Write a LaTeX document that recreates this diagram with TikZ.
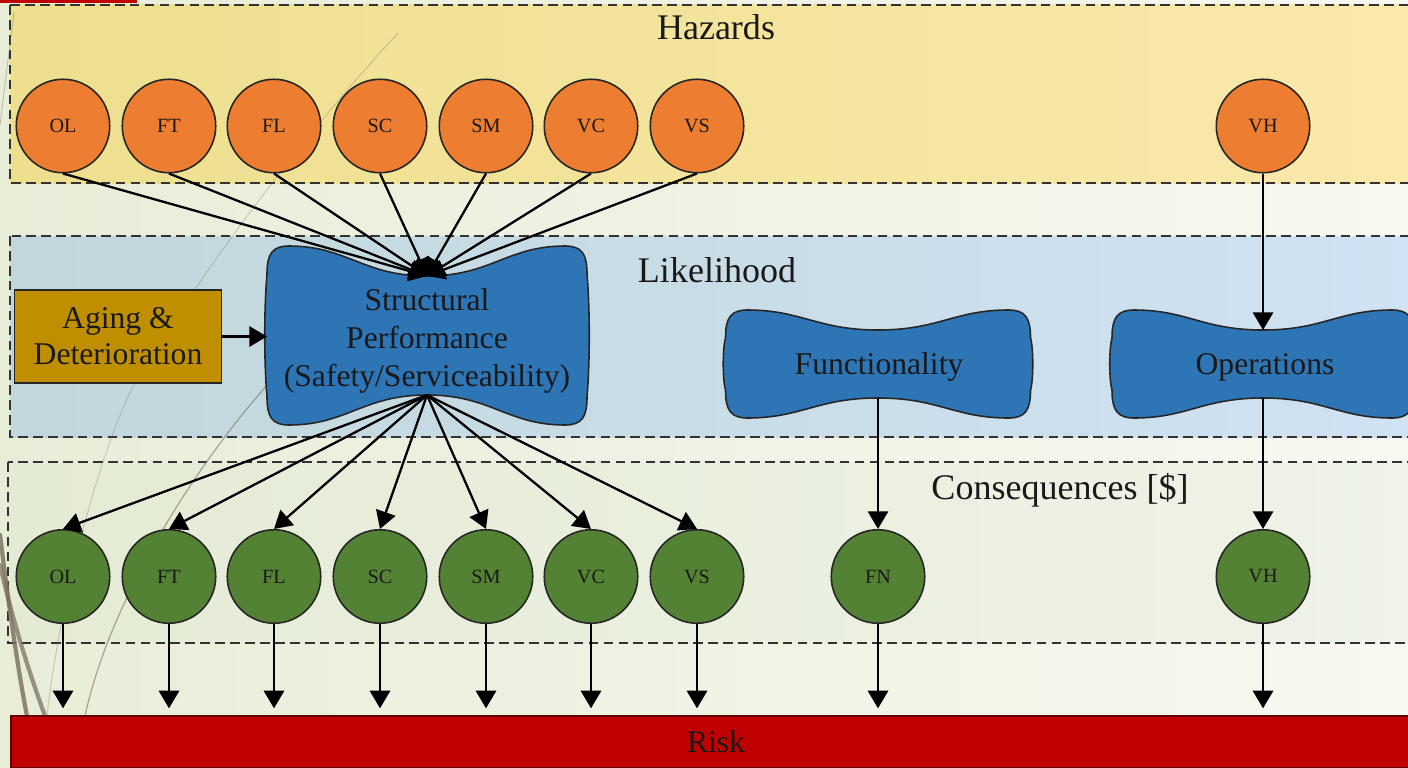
\documentclass[tikz,border=0pt]{standalone}
\usepackage{fontspec}
\setmainfont{Liberation Serif}
\usetikzlibrary{arrows.meta,calc}

\definecolor{slideA}{HTML}{E8EDD8}
\definecolor{slideB}{HTML}{F7F8F0}
\definecolor{hazA}{HTML}{EDDF8E}
\definecolor{hazB}{HTML}{FAE9AC}
\definecolor{likA}{HTML}{C1D7DB}
\definecolor{likB}{HTML}{D0E2F3}
\definecolor{conA}{HTML}{E4EBD4}
\definecolor{conB}{HTML}{EFF3E8}
\definecolor{hazfill}{HTML}{ED7D31}
\definecolor{confill}{HTML}{548235}
\definecolor{perffill}{HTML}{2E75B6}
\definecolor{agefill}{HTML}{BF8F00}
\definecolor{riskfill}{HTML}{C00000}
\definecolor{wisp}{HTML}{7D7461}

% pinched "vase" outline with named top/bottom/left points
% #1 name, #2 cx, #3 cy, #4 half width, #5 half height, #6 dip
\newcommand{\pinchshape}[6]{%
  \path[perf] (#2,#3-#5+#6)
    .. controls (#2+0.4*#4,#3-#5+#6) and (#2+0.5*#4,#3-#5) .. (#2+#4-22,#3-#5)
    .. controls (#2+#4-5,#3-#5) and (#2+#4,#3-#5+8) .. (#2+#4,#3-#5+28)
    .. controls (#2+#4+3,#3-0.3*#5) and (#2+#4+3,#3+0.3*#5) .. (#2+#4,#3+#5-28)
    .. controls (#2+#4,#3+#5-8) and (#2+#4-5,#3+#5) .. (#2+#4-22,#3+#5)
    .. controls (#2+0.5*#4,#3+#5) and (#2+0.4*#4,#3+#5-#6) .. (#2,#3+#5-#6)
    .. controls (#2-0.4*#4,#3+#5-#6) and (#2-0.5*#4,#3+#5) .. (#2-#4+22,#3+#5)
    .. controls (#2-#4+5,#3+#5) and (#2-#4,#3+#5-8) .. (#2-#4,#3+#5-28)
    .. controls (#2-#4-3,#3+0.3*#5) and (#2-#4-3,#3-0.3*#5) .. (#2-#4,#3-#5+28)
    .. controls (#2-#4,#3-#5+8) and (#2-#4+5,#3-#5) .. (#2-#4+22,#3-#5)
    .. controls (#2-0.5*#4,#3-#5) and (#2-0.4*#4,#3-#5+#6) .. cycle;
  \coordinate (#1-n) at (#2,#3-#5+#6);
  \coordinate (#1-s) at (#2,#3+#5-#6);
  \coordinate (#1-w) at (#2-#4,#3);
}

\begin{document}
\begin{tikzpicture}[x=0.02cm,y=-0.02cm,
  every node/.style={text=black!90},
  band/.style={dash pattern=on 5.5pt off 3pt, line width=1.1pt, draw=black!80},
  hz/.style={circle, draw=black!85, line width=0.9pt, fill=hazfill,
    minimum size=1.87cm, inner sep=0pt, font=\fontsize{11.5}{12}\selectfont},
  cq/.style={hz, fill=confill},
  perf/.style={draw=black!85, line width=0.9pt, fill=perffill},
  arr/.style={line width=1.3pt, -{Triangle[length=10pt,width=11.5pt]}},
  lbl/.style={font=\fontsize{20.5}{24}\selectfont, inner sep=0pt},
  txt/.style={font=\fontsize{18}{21.5}\selectfont, align=center, inner sep=0pt},
  wispline/.style={draw=wisp, line cap=round},
]
\useasboundingbox (0,0) rectangle (1408,767);

% slide background
\shade[left color=slideA, right color=slideB] (0,0) rectangle (1408,767);
\fill[red!75!black] (0,0) rectangle (137,3);

% layer bands
\shade[left color=hazA, right color=hazB] (10,5) rectangle (1420,183);
\draw[band] (10,5) rectangle (1420,183);
\shade[left color=likA, right color=likB] (10,236) rectangle (1420,437);
\draw[band] (10,236) rectangle (1420,437);
\shade[left color=conA, right color=conB] (8,462) rectangle (1420,643);
\draw[band] (8,462) rectangle (1420,643);

% decorative background strokes
\draw[wispline, line width=0.4pt, opacity=0.5] (14,12) -- (0,125);
\draw[wispline, line width=0.5pt, opacity=0.35]
  (398,33) .. controls (280,160) and (170,320) .. (133,387)
  .. controls (100,450) and (60,600) .. (47,716);
\draw[wispline, line width=0.7pt, opacity=0.6]
  (300,350) .. controls (200,450) and (110,600) .. (85,716);
\draw[wispline, line width=2.4pt, opacity=0.85]
  (0,535) .. controls (8,600) and (18,670) .. (27,716);
\draw[wispline, line width=2.4pt, opacity=0.75]
  (0,565) .. controls (15,630) and (32,680) .. (45,716);

% band titles
\node[lbl] (thaz) at (716,27) {Hazards};
\node[lbl] (tlik) at (717,270) {Likelihood};
\node[lbl] (tcon) at (1060,490) {Consequences [\$]};

% hazard nodes
\foreach \n/\x/\t in {1/63/OL,2/169/FT,3/274/FL,4/380/SC,5/486/SM,6/591/VC,7/697/VS,8/1263/VH}
  \node[hz] (h\n) at (\x,126) {\t};

% consequence nodes
\foreach \n/\x/\t in {1/63/OL,2/169/FT,3/274/FL,4/380/SC,5/486/SM,6/591/VC,7/697/VS,8/878/FN,9/1263/VH}
  \node[cq] (c\n) at (\x,576.5) {\t};

% likelihood nodes
\pinchshape{sp}{427}{335.5}{160}{89.5}{30}
\node[txt] (spt) at (427,341) {Structural\\Performance\\(Safety/Serviceability)};
\pinchshape{fn}{878}{364}{152.5}{54}{20}
\node[txt] (fnt) at (879,367) {Functionality};
\pinchshape{op}{1263}{364}{151}{54}{20}
\node[txt] (opt) at (1265,367) {Operations};

\node[draw=black!85, line width=0.9pt, fill=agefill, minimum width=4.14cm,
  minimum height=1.86cm, txt, font=\fontsize{18}{20.5}\selectfont] (age) at (118,336.5)
  {Aging \&\\Deterioration};

% risk bar
\node[fill=riskfill, draw=black!60!red, line width=0.8pt, minimum width=28.2cm,
  minimum height=1.04cm, inner sep=0pt, font=\fontsize{18}{21}\selectfont] (risk) at (716,742) {Risk};

% connectors
\foreach \n in {1,...,7}
  \draw[arr] (h\n.south) -- (sp-n);
\foreach \n in {1,...,7}
  \draw[arr] (sp-s) -- (c\n.north);
\draw[arr] (age.east) -- (age.east -| sp-w);
\draw[arr] (h8.south) -- (op-n);
\draw[arr] (fn-s) -- (c8.north);
\draw[arr] (op-s) -- (c9.north);
\foreach \n in {1,...,9}
  \draw[arr, shorten >=0.14cm] (c\n.south) -- (c\n.south |- risk.north);
\end{tikzpicture}
\end{document}
